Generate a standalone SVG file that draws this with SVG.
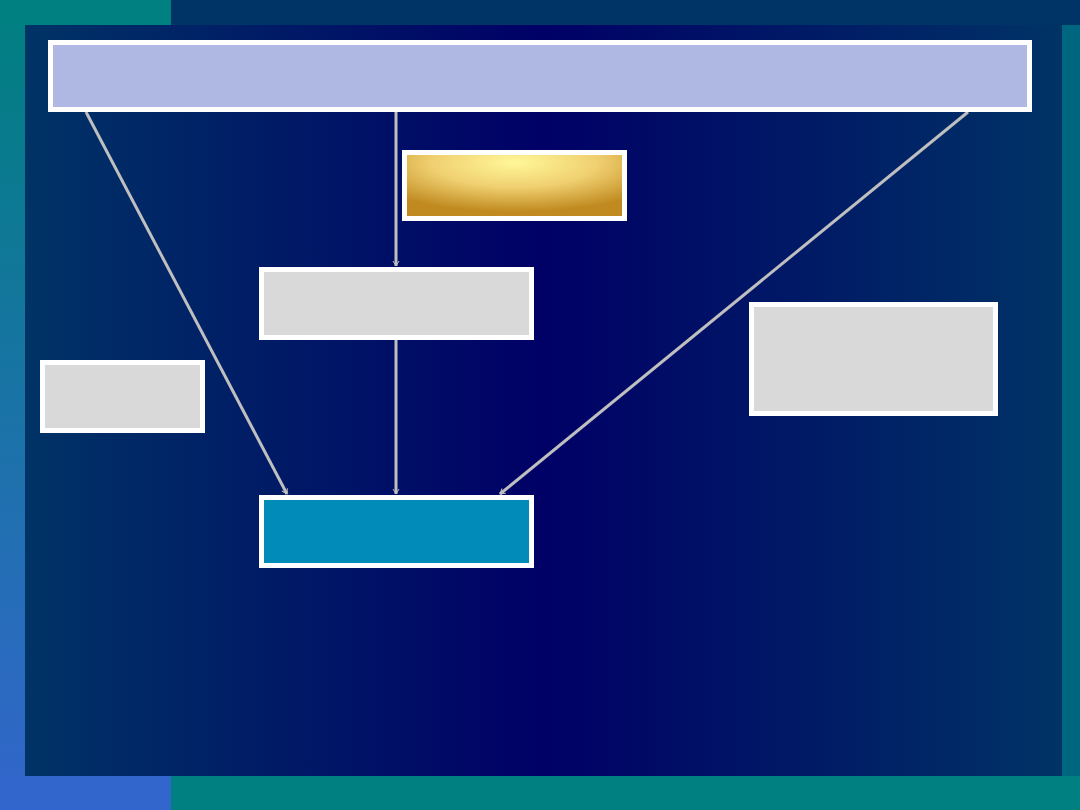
<svg xmlns="http://www.w3.org/2000/svg" width="1080" height="810" viewBox="0 0 1080 810">
<defs>
<linearGradient id="panel" x1="0" x2="1" y1="0" y2="0"><stop offset="0" stop-color="#003366"/><stop offset="0.5" stop-color="#000066"/><stop offset="1" stop-color="#003366"/></linearGradient>
<linearGradient id="leftStrip" x1="0" x2="0" y1="0" y2="1"><stop offset="0" stop-color="#008080"/><stop offset="1" stop-color="#3366cc"/></linearGradient>
<radialGradient id="gold" cx="0.5" cy="0.15" r="0.75"><stop offset="0" stop-color="#fff799"/><stop offset="0.5" stop-color="#f0d070"/><stop offset="1" stop-color="#c08a20"/></radialGradient>
<marker id="arr" viewBox="0 0 12 12" refX="10" refY="6" markerWidth="6" markerHeight="6" orient="auto" markerUnits="userSpaceOnUse" overflow="visible"><path d="M0,0 L10,6 L0,12" fill="none" stroke="#c0c0c0" stroke-width="2"/></marker>
</defs>
<style>
.box{stroke:#fff;stroke-width:5}
.gray{fill:#d9d9d9}
.con{stroke:#bfbfbf;stroke-width:3;fill:none;marker-end:url(#arr)}
</style>
<rect x="0" y="0" width="1080" height="810" fill="#003366"/>
<rect x="0" y="0" width="25" height="810" fill="url(#leftStrip)"/>
<rect x="0" y="0" width="171" height="25" fill="#008080"/>
<rect x="0" y="776" width="171" height="34" fill="#3366cc"/>
<rect x="171" y="776" width="909" height="34" fill="#008080"/>
<rect x="1062" y="25" width="18" height="751" fill="#006680"/>
<rect x="25" y="25" width="1037" height="751" fill="url(#panel)"/>
<g id="connectors">
<line class="con" x1="86" y1="112" x2="287" y2="494"/>
<line class="con" x1="396" y1="112" x2="396" y2="266"/>
<line class="con" x1="396" y1="340" x2="396" y2="494"/>
<line class="con" x1="968" y1="112" x2="500" y2="494"/>
</g>
<g id="top"><rect class="box" x="50.5" y="42.5" width="979" height="67" fill="#aeb8e3"/></g>
<g id="gold-box"><rect class="box" x="404.5" y="152.5" width="220" height="66" fill="url(#gold)"/></g>
<g id="mid"><rect class="box gray" x="261.5" y="269.5" width="270" height="68"/></g>
<g id="left"><rect class="box gray" x="42.5" y="362.5" width="160" height="68"/></g>
<g id="right"><rect class="box gray" x="751.5" y="304.5" width="244" height="109"/></g>
<g id="bottom"><rect class="box" x="261.5" y="497.5" width="270" height="68" fill="#008bb8"/></g>
</svg>
